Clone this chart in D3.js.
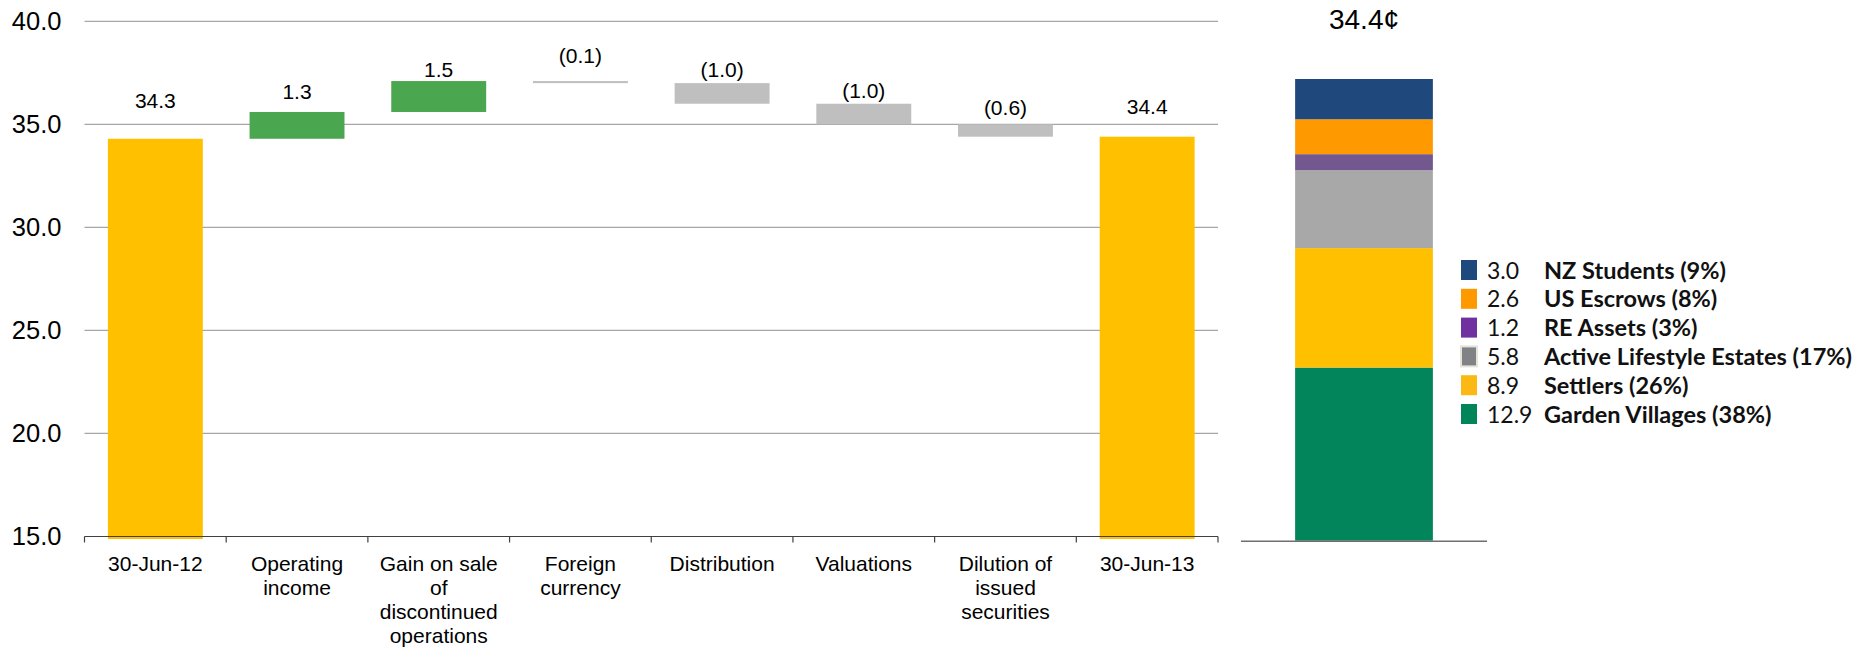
<!DOCTYPE html>
<html>
<head>
<meta charset="utf-8">
<script src="https://cdn.jsdelivr.net/npm/d3@7"></script>
<style>
body { margin: 0; background: #fff; }
svg { display: block; }
text { font-family: "Liberation Sans", Arial, sans-serif; fill: #000; }
.legend text { font-family: Lato, "Open Sans", sans-serif; }
</style>
</head>
<body>
<div id="chart"></div>
<script>
// waterfall (cents per security)
const categories = [
    ["30-Jun-12"],
    ["Operating", "income"],
    ["Gain on sale", "of", "discontinued", "operations"],
    ["Foreign", "currency"],
    ["Distribution"],
    ["Valuations"],
    ["Dilution of", "issued", "securities"],
    ["30-Jun-13"]
];
const steps = [34.3, 1.3, 1.5, -0.1, -1.0, -1.0, -0.6, 34.4];
const stepKind = ["total", "up", "up", "down", "down", "down", "down", "total"];
const yTicks = [15, 20, 25, 30, 35, 40];

// composition of the closing value, bottom to top
const segNames = ["Garden Villages", "Settlers", "Active Lifestyle Estates", "RE Assets", "US Escrows", "NZ Students"];
const segValues = [12.9, 8.9, 5.8, 1.2, 2.6, 3.0];
const segShares = [38, 26, 17, 3, 8, 9];
const totalLabel = "34.4¢";

var width = 1868, height = 648;
var svg = d3.select("#chart").append("svg")
    .attr("width", width)
    .attr("height", height)
    .attr("viewBox", `0 0 ${width} ${height}`);

var x = d3.scaleBand()
    .domain(d3.range(categories.length))
    .range([84.5, 1218])
    .padding(0);
var y = d3.scaleLinear()
    .domain([15, 40])
    .range([536.5, 21.3]);
var barW = x.bandwidth() * 0.67;

var kindColor = { total: "#ffc000", up: "#4ba650", down: "#bfbfbf" };
// distance (px) from bar top to label baseline, as placed in the original
var labelLift = [31, 13, 4, 18, 6, 6, 9, 23];

// gridlines
svg.append("g")
    .selectAll("line")
    .data(yTicks.slice(1))
    .enter()
    .append("line")
    .attr("x1", x.range()[0]).attr("x2", x.range()[1])
    .attr("y1", d => y(d)).attr("y2", d => y(d))
    .attr("stroke", "#a6a6a6")
    .attr("stroke-width", 1.3);

// y axis labels
var yAxis = svg.append("g")
    .attr("transform", "translate(" + x.range()[0] + ",0)")
    .call(d3.axisLeft(y).tickValues(yTicks).tickFormat(d3.format(".1f")).tickSize(0).tickPadding(23));
yAxis.select(".domain").remove();
yAxis.selectAll("text")
    .style("font-family", "'Liberation Sans', Arial, sans-serif")
    .style("font-size", "25.5px")
    .attr("fill", "#000");

// running totals
var run = 0;
var bars = steps.map(function (v, i) {
    var lo, hi;
    if (stepKind[i] === "total") {
        lo = y.domain()[0]; hi = v; run = v;
    } else {
        var s = run;
        run = +(run + v).toFixed(2);
        lo = Math.min(s, run); hi = Math.max(s, run);
    }
    return { i: i, v: v, lo: lo, hi: hi, kind: stepKind[i] };
});

svg.append("g")
    .selectAll("rect")
    .data(bars)
    .enter()
    .append("rect")
    .attr("x", d => x(d.i) + (x.bandwidth() - barW) / 2)
    .attr("width", barW)
    .attr("y", d => y(d.hi))
    .attr("height", d => Math.max(2, y(d.lo) - y(d.hi) + (d.kind === "total" ? 2.5 : 0)))
    .attr("fill", d => kindColor[d.kind]);

var fmt = d3.format(".1f");
svg.append("g")
    .selectAll("text")
    .data(bars)
    .enter()
    .append("text")
    .attr("x", d => x(d.i) + x.bandwidth() / 2)
    .attr("y", d => y(d.hi) - labelLift[d.i])
    .attr("text-anchor", "middle")
    .style("font-size", "21px")
    .text(d => d.v < 0 ? "(" + fmt(-d.v) + ")" : fmt(d.v));

// bottom axis, ticks between categories like the original
var xAxis = svg.append("g")
    .attr("transform", "translate(0," + y.range()[0] + ")");
xAxis.append("line")
    .attr("x1", x.range()[0]).attr("x2", x.range()[1])
    .attr("stroke", "#404040").attr("stroke-width", 1.2);
xAxis.selectAll(".tk")
    .data(d3.range(categories.length + 1))
    .enter()
    .append("line")
    .attr("class", "tk")
    .attr("x1", d => x.range()[0] + d * x.step())
    .attr("x2", d => x.range()[0] + d * x.step())
    .attr("y1", 0).attr("y2", 6)
    .attr("stroke", "#404040").attr("stroke-width", 1.2);
var catText = xAxis.selectAll(".cat")
    .data(categories)
    .enter()
    .append("text")
    .attr("class", "cat")
    .attr("text-anchor", "middle")
    .attr("transform", (d, i) => "translate(" + (x(i) + x.bandwidth() / 2) + ",34)")
    .style("font-size", "21px");
catText.selectAll("tspan")
    .data(d => d)
    .enter()
    .append("tspan")
    .attr("x", 0)
    .attr("y", (d, i) => i * 24.3)
    .text(d => d);

// right panel: stacked composition bar
var total = d3.sum(segValues);
var x2 = d3.scaleBand()
    .domain(["total"])
    .range([1241, 1487])
    .paddingInner(0.44)
    .paddingOuter(0.22);
var y2 = d3.scaleLinear()
    .domain([0, total])
    .range([540.7, 79]);
var segBar = ["#02855a", "#ffc000", "#a8a8a8", "#72588e", "#ff9900", "#1f497d"];
var segSwatch = ["#00855a", "#fdb913", "#808285", "#7030a0", "#ff9900", "#1f497d"];

var stack = d3.cumsum(segValues);
svg.append("g")
    .selectAll("rect")
    .data(segValues)
    .enter()
    .append("rect")
    .attr("x", x2("total"))
    .attr("width", x2.bandwidth())
    .attr("y", (d, i) => y2(stack[i]))
    .attr("height", (d, i) => y2(stack[i] - d) - y2(stack[i]))
    .attr("fill", (d, i) => segBar[i]);

svg.append("line")
    .attr("x1", x2.range()[0]).attr("x2", x2.range()[1])
    .attr("y1", y2(0) + 0.5).attr("y2", y2(0) + 0.5)
    .attr("stroke", "#6f6f6f").attr("stroke-width", 1.5);

svg.append("text")
    .attr("x", x2("total") + x2.bandwidth() / 2)
    .attr("y", 28.5)
    .attr("text-anchor", "middle")
    .style("font-size", "28px")
    .text(totalLabel);

// legend, top row = top segment
var order = d3.range(segNames.length).reverse();
var ly = d3.scalePoint()
    .domain(order)
    .range([270, 414]);
var legend = svg.append("g").attr("class", "legend");
var row = legend.selectAll("g")
    .data(order)
    .enter()
    .append("g")
    .attr("transform", d => "translate(0," + ly(d) + ")");
row.append("rect")
    .attr("x", 1461).attr("y", -10)
    .attr("width", 16).attr("height", 20)
    .attr("fill", d => segSwatch[d])
    .attr("stroke", d => segNames[d] === "Active Lifestyle Estates" ? "#e6e3da" : "none")
    .attr("stroke-width", 2);
row.append("text")
    .attr("x", 1487).attr("y", 8.5)
    .style("font-size", "23px")
    .style("fill", "#111")
    .text(d => fmt(segValues[d]));
row.append("text")
    .attr("x", 1544).attr("y", 8.5)
    .style("font-size", "23.5px")
    .style("font-weight", "bold")
    .style("fill", "#111")
    .text(d => segNames[d] + " (" + segShares[d] + "%)");
</script>
</body>
</html>
